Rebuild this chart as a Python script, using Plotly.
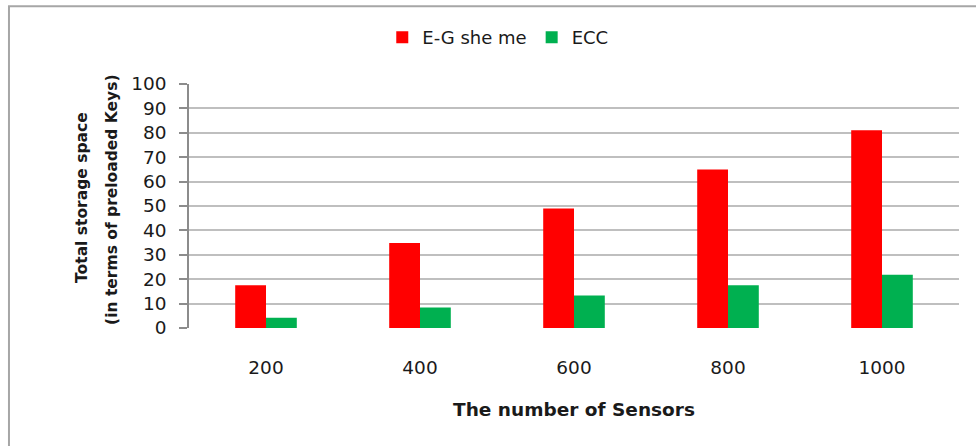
import plotly.graph_objects as go

# Sensor counts and key storage per scheme
sensors = ["200", "400", "600", "800", "1000"]
eg_scheme = [17.5, 34.8, 49, 65, 81]
ecc = [4.2, 8.4, 13.3, 17.5, 21.8]
y_ticks = [0, 10, 20, 30, 40, 50, 60, 70, 80, 90, 100]
y_title_lines = ["Total storage space", "(in terms of preloaded Keys)"]

FONT = "'DejaVu Sans', sans-serif"
TEXT = "#1a1a1a"

fig = go.Figure()
fig.add_trace(go.Bar(name="E-G she me", x=sensors, y=eg_scheme,
                     marker=dict(color="#FF0000", line=dict(width=0))))
fig.add_trace(go.Bar(name="ECC", x=sensors, y=ecc,
                     marker=dict(color="#00B050", line=dict(width=0))))

# two-line rotated y title, one annotation per line
y_title = [
    dict(text=f"<b>{line}</b>", xref="paper", yref="paper", x=xp, y=yp,
         xanchor="center", yanchor="middle", textangle=-90, showarrow=False,
         font=dict(family=FONT, size=15.5, color=TEXT))
    for line, xp, yp in zip(y_title_lines, [-0.139, -0.1], [0.537, 0.525])
]

fig.update_layout(
    width=976, height=446,
    margin=dict(l=189, r=17, t=84, b=118),
    paper_bgcolor="white", plot_bgcolor="white",
    barmode="group", bargap=0.6, bargroupgap=0,
    font=dict(family=FONT, size=18, color=TEXT),
    showlegend=True,
    legend=dict(orientation="h", x=0.401, xanchor="center", y=1.19, yanchor="middle",
                font=dict(size=18, color=TEXT), itemwidth=30,
                traceorder="normal"),
    xaxis=dict(showgrid=False, showline=False, ticks="", ticklabelstandoff=26,
               tickfont=dict(size=18.5),
               title=dict(text="<b>The number of Sensors</b>",
                          font=dict(size=18.5, color=TEXT), standoff=26)),
    yaxis=dict(range=[0, 100], tickvals=y_ticks, showgrid=True, gridcolor="#BFBFBF",
               gridwidth=1.5, showline=True, linecolor="#8C8C8C", linewidth=1.5,
               ticks="outside", ticklen=8, tickcolor="#8C8C8C", tickwidth=1.5,
               tickfont=dict(size=18.5), zeroline=False, ticklabelstandoff=9),
    annotations=y_title,
    shapes=[dict(type="rect", xref="paper", yref="paper",
                 x0=-0.2338, y0=-0.8, x1=1.2, y1=1.319,
                 line=dict(color="#A6A6A6", width=2), layer="below")],
)

fig.write_html("out.html")
